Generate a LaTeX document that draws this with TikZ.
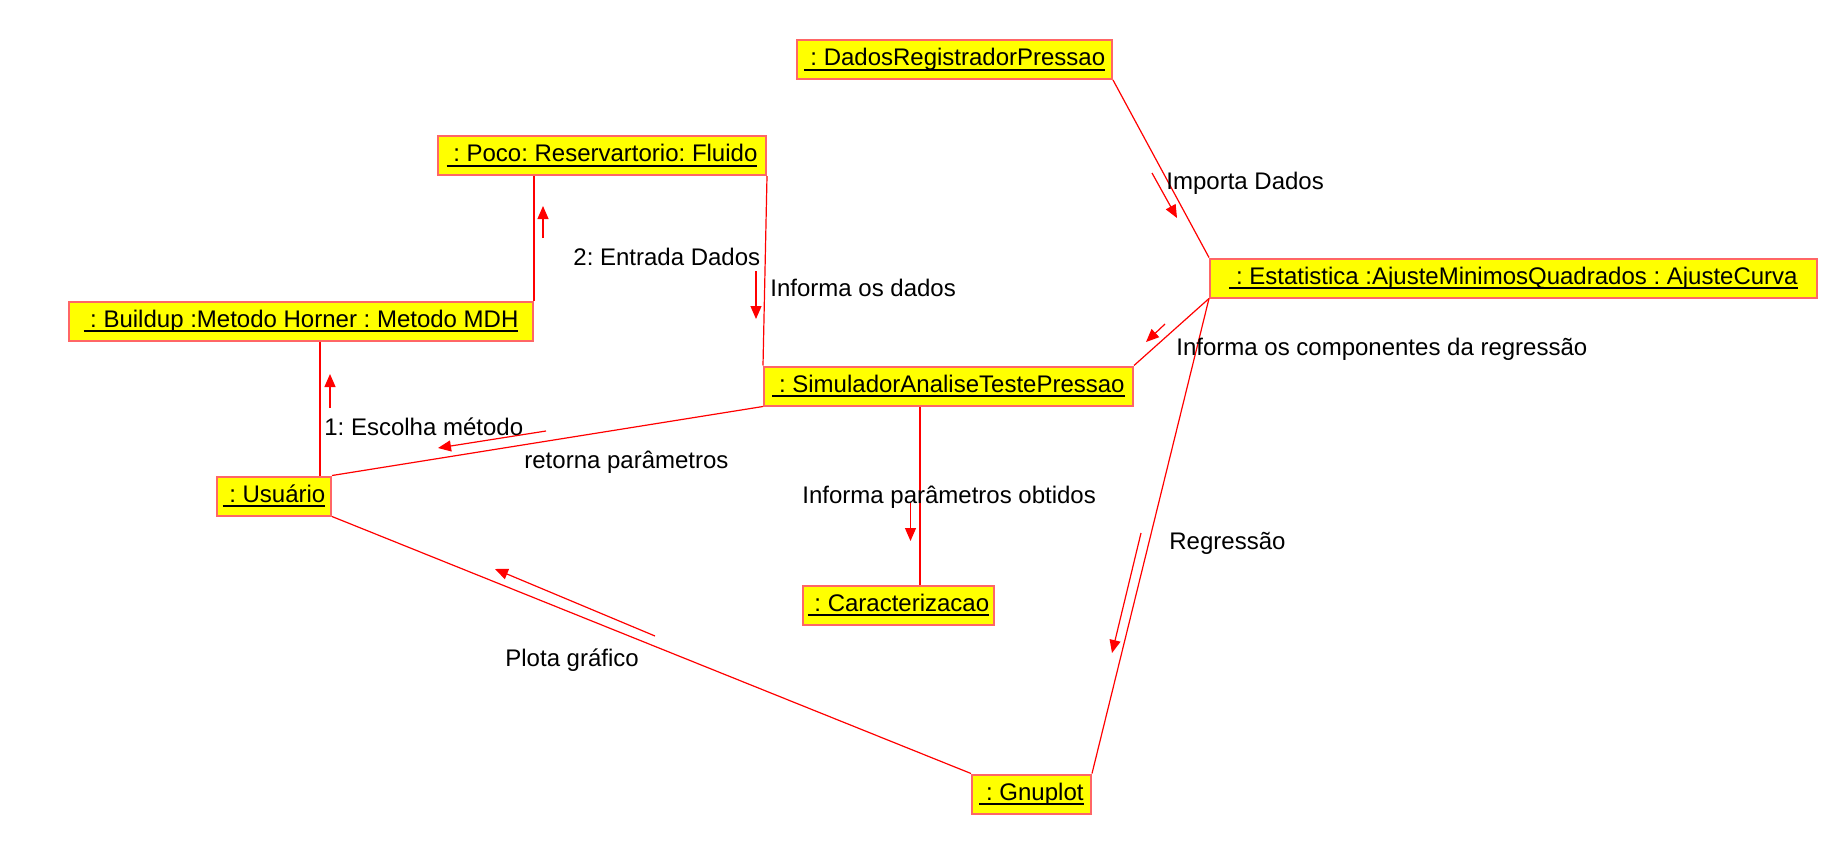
\documentclass[tikz,border=0pt]{standalone}
\usepackage{fontspec}
\setmainfont{Liberation Sans}
\usetikzlibrary{arrows.meta}
\frenchspacing

\definecolor{borda}{RGB}{255,102,102}
\definecolor{linha}{RGB}{255,0,0}
\definecolor{caixa}{RGB}{255,255,0}
\newsavebox{\caixanome}
\newcommand{\nomeobj}[1]{\sbox{\caixanome}{\ #1}\rlap{\rule[-2.6pt]{\wd\caixanome}{1pt}}\usebox{\caixanome}}

\begin{document}
\begin{tikzpicture}[x=0.5pt, y=-0.5pt,
        objeto/.style={draw=borda, line width=1pt, fill=caixa, inner xsep=2pt,
            minimum height=19.5pt, font=\fontsize{12}{14}\selectfont},
        ligacao/.style={draw=linha, line width=0.6pt},
        mensagem/.style={draw=linha, line width=0.6pt,
            -{Triangle[length=6.5pt,width=5.5pt]}},
        rotulo/.style={anchor=west, inner sep=0pt, font=\fontsize{12}{14}\selectfont}]
    \useasboundingbox (0,0) rectangle (1842,851);

    % objetos da colaboracao
    \node[objeto, minimum width=157.5pt] (dados) at (954.5,59.5) {\nomeobj{: DadosRegistradorPressao}};
    \node[objeto, minimum width=164pt] (poco) at (602,155.5) {\nomeobj{: Poco: Reservartorio: Fluido}};
    \node[objeto, minimum width=232pt] (buildup) at (301,321) {\nomeobj{: Buildup :Metodo Horner : Metodo MDH}};
    \node[objeto, minimum width=303.5pt] (estat) at (1513.5,278) {\nomeobj{: Estatistica :AjusteMinimosQuadrados : AjusteCurva}};
    \node[objeto, minimum width=184.5pt] (simul) at (948.5,386) {\nomeobj{: SimuladorAnaliseTestePressao}};
    \node[objeto, minimum width=57pt] (usuario) at (274,496) {\nomeobj{: Usuário}};
    \node[objeto, minimum width=95.5pt] (caract) at (898.5,605) {\nomeobj{: Caracterizacao}};
    \node[objeto, minimum width=59.5pt] (gnuplot) at (1031.5,794) {\nomeobj{: Gnuplot}};

    % ligacoes
    \draw[ligacao] (buildup.north east) -- (buildup.north east |- poco.south);
    \draw[ligacao] (poco.south east) -- (simul.north west);
    \draw[ligacao] (320,0 |- buildup.south) -- (320,0 |- usuario.north);
    \draw[ligacao] (simul.south west) -- (usuario.north east);
    \draw[ligacao] (usuario.south east) -- (gnuplot.north west);
    \draw[ligacao] (dados.south east) -- (estat.north west);
    \draw[ligacao] (estat.south west) -- (simul.north east);
    \draw[ligacao] (estat.south west) -- (gnuplot.north east);
    \draw[ligacao] (920,0 |- simul.south) -- (920,0 |- caract.north);

    % mensagens
    \draw[mensagem] (330,408) -- (330,374);
    \node[rotulo] (escolha) at (324,427) {1: Escolha método};
    \draw[mensagem] (543,238) -- (543,206);
    \node[rotulo] (entrada) at (573,257) {2: Entrada Dados};
    \draw[mensagem] (756,271) -- (756,319);
    \node[rotulo] (informa) at (770,288) {Informa os dados};
    \draw[mensagem] (1152,173) -- (1177,218);
    \node[rotulo] (importa) at (1166,183) {Importa Dados};
    \draw[mensagem] (1165,324) -- (1146,342);
    \node[rotulo] (componentes) at (1176,349) {Informa os componentes da regressão};
    \draw[mensagem] (546,431) -- (438,448);
    \node[rotulo] (retorna) at (524,462) {retorna parâmetros};
    \draw[mensagem] (910.5,502) -- (910.5,541);
    \node[rotulo] (obtidos) at (802,497) {Informa parâmetros obtidos};
    \draw[mensagem] (1141,533) -- (1112,653);
    \node[rotulo] (regressao) at (1169,543) {Regressão};
    \draw[mensagem] (655,636) -- (495,569);
    \node[rotulo] (plota) at (505,660) {Plota gráfico};
\end{tikzpicture}
\end{document}
